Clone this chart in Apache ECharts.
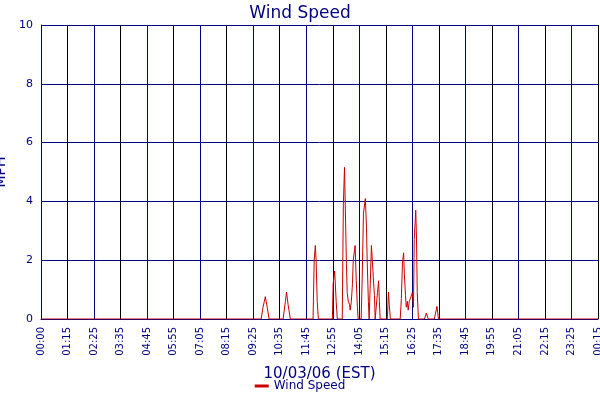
<!DOCTYPE html>
<html>
<head>
<meta charset="utf-8">
<script src="https://cdn.jsdelivr.net/npm/echarts@6/dist/echarts.min.js"></script>
<style>html,body{margin:0;padding:0;background:#fff}#main{width:600px;height:400px}</style>
</head>
<body>
<div id="main"></div>
<script>
// tick labels, one every 70 minutes
var tickLabels = ['00:00','01:15','02:25','03:35','04:45','05:55','07:05','08:15','09:25','10:35','11:45',
	'12:55','14:05','15:15','16:25','17:35','18:45','19:55','21:05','22:15','23:25','00:15'];
// minutes from axis start
var minutes = [0,581,586,592,597,602,639,645,648,652,658,718,721,724,726,729,732,769,771,775,779,782,
	795,798,801,806,808,811,814,816,819,822,824,829,832,835,837,845,848,851,856,859,861,864,866,869,872,
	874,877,880,882,888,891,893,895,914,917,919,922,948,951,954,957,959,962,964,967,969,972,975,980,983,
	985,989,991,993,996,1012,1017,1022,1038,1045,1049,1470];
var windSpeed = [0,0,0.4,0.76,0.4,0,0,0.6,0.92,0.5,0,0,2.0,2.5,2.0,0.6,0,0,1.2,1.63,0.6,0,
	0,3.9,5.16,1.9,0.9,0.6,0.5,0.3,0.6,1.2,2.0,2.5,1.3,0.4,0,0,1.6,3.6,4.1,3.1,1.9,0.6,0,1.2,2.5,
	2.1,1.4,0.8,0,0.9,1.3,0.6,0,0,0.92,0.5,0,0,0.7,1.9,2.25,1.5,0.8,0.4,0.6,0.3,0.6,0.7,0.9,0.4,
	2.7,3.7,2.75,0.9,0,0,0.2,0,0,0.43,0,0];

var myChart = echarts.init(document.getElementById('main'));
var font = 'DejaVu Sans';
var navy = '#000080';
var option = {
	animation: false,
	title: {
		text: 'Wind Speed', left: 'center', top: 0,
		textStyle: {color: navy, fontSize: 17, fontWeight: 'normal', fontFamily: font}
	},
	legend: {
		bottom: 3, left: 'center', itemWidth: 14, itemHeight: 3,
		icon: 'rect',
		textStyle: {color: navy, fontSize: 12, fontFamily: font},
		data: ['Wind Speed']
	},
	grid: {left: 41, right: 2, top: 25, bottom: 81, containLabel: false, outerBoundsMode: 'none'},
	xAxis: {
		type: 'value', min: 0, max: 1470, interval: 70,
		name: '10/03/06 (EST)', nameLocation: 'middle', nameGap: 48,
		nameTextStyle: {color: navy, fontSize: 15, fontFamily: font},
		axisLine: {lineStyle: {color: navy, width: 1}},
		axisTick: {show: false},
		axisLabel: {
			rotate: 90, color: navy, fontSize: 10, fontFamily: font, showMaxLabel: true,
			formatter: function(v){ return tickLabels[Math.round(v / 70)]; }
		},
		splitLine: {show: true, lineStyle: {color: [navy, '#000000'], width: 1}}
	},
	yAxis: {
		type: 'value', min: 0, max: 10, interval: 2,
		name: 'MPH', nameLocation: 'middle', nameGap: 25,
		nameTextStyle: {color: navy, fontSize: 14, fontFamily: font},
		axisLine: {show: true, lineStyle: {color: navy}},
		axisTick: {show: false},
		axisLabel: {color: navy, fontSize: 11, fontFamily: font},
		splitLine: {show: true, lineStyle: {color: navy, width: 1}}
	},
	series: [{
		name: 'Wind Speed', type: 'line', symbol: 'none',
		lineStyle: {color: '#cc0000', width: 1},
		itemStyle: {color: '#cc0000'},
		data: minutes.map(function(m, i){ return [m, windSpeed[i]]; })
	}]
};
myChart.setOption(option);
</script>
</body>
</html>
